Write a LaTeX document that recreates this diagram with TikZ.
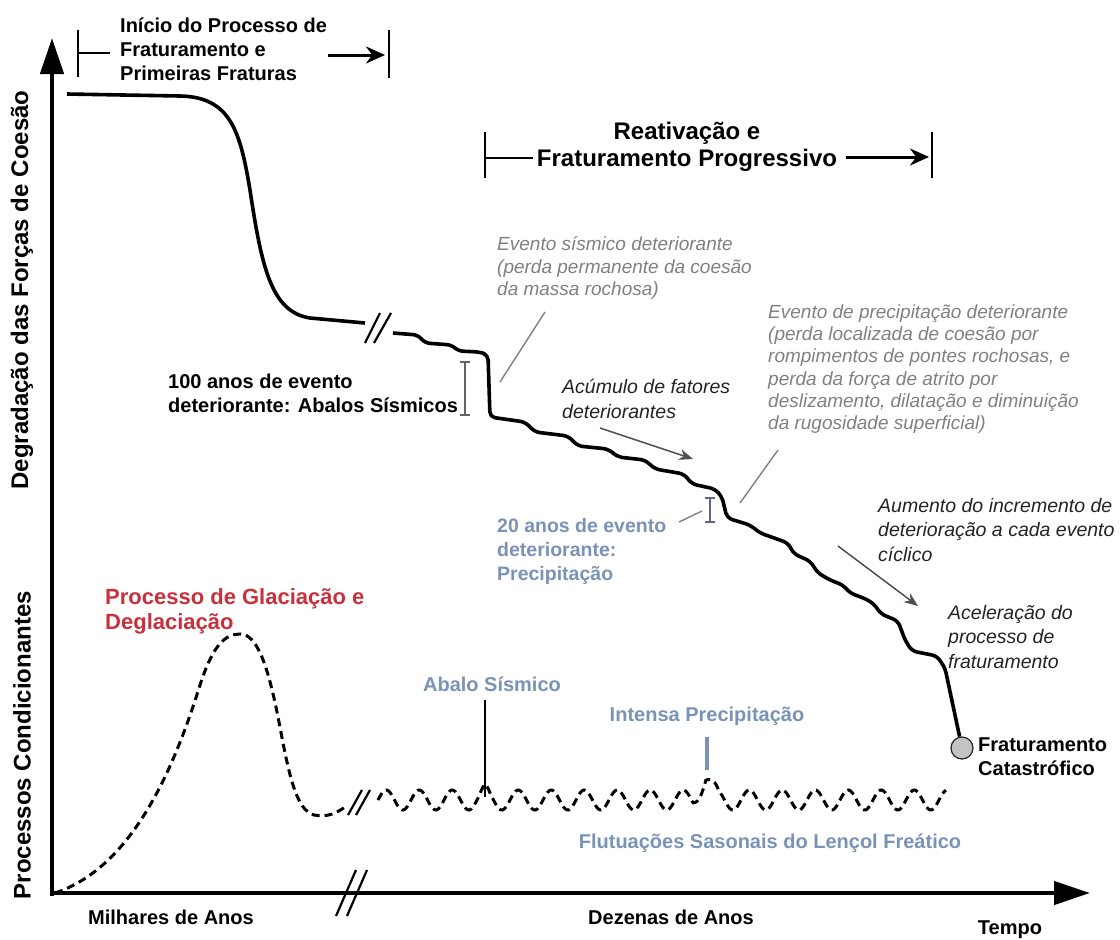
\documentclass[tikz,border=0pt]{standalone}
\usepackage{fontspec}
\setmainfont{Liberation Sans}
\usetikzlibrary{arrows.meta}
\definecolor{txtgray}{RGB}{128,128,128}
\definecolor{bluegray}{RGB}{122,146,182}
\definecolor{redtxt}{RGB}{200,48,60}
\definecolor{darktxt}{RGB}{35,35,35}
\definecolor{circgray}{RGB}{195,195,195}
\definecolor{bargray}{RGB}{100,100,100}
\definecolor{barblue}{RGB}{95,100,140}
\tikzset{
 boldtxt/.style={font=\bfseries\fontsize{20}{24}\selectfont, inner sep=0pt, align=left},
 grayit/.style={font=\itshape\fontsize{19}{22.3}\selectfont, text=txtgray, inner sep=0pt, align=left},
 darkit/.style={font=\itshape\fontsize{19.5}{24.5}\selectfont, text=darktxt, inner sep=0pt, align=left},
 bluebold/.style={font=\bfseries\fontsize{20}{24}\selectfont, text=bluegray, inner sep=0pt, align=left},
 axisline/.style={line width=4.5pt, -{Triangle[length=36pt,width=23pt]}},
 brk/.style={line width=2.2pt},
 stair/.style={line width=3.6pt, rounded corners=5pt, line join=round},
 wave/.style={line width=3pt, dash pattern=on 8pt off 5pt},
 barline/.style={line width=2.8pt},
 headarrow/.style={line width=3pt, -{Stealth[length=19pt,width=17pt]}},
 pointer/.style={line width=1.4pt, draw=txtgray},
 darkpointer/.style={line width=1.5pt, draw=darktxt!80, -{Stealth[length=14pt,width=11pt]}},
 ibar/.style={line width=1.6pt},
}
\begin{document}
\begin{tikzpicture}[x=1pt,y=-1pt]
\useasboundingbox (0,0) rectangle (1120,940);

% axes
\coordinate (O) at (52,896);
\coordinate (ytop) at (52,38);
\coordinate (xo) at (50,893);
\coordinate (xend) at (1090,893);
\draw[axisline] (O) -- (ytop);
\draw[axisline] (xo) -- (xend);
% x-axis break
\coordinate (xb1a) at (336,916); \coordinate (xb1b) at (356,870);
\coordinate (xb2a) at (347,916); \coordinate (xb2b) at (367,870);
\draw[brk] (xb1a) -- (xb1b);
\draw[brk] (xb2a) -- (xb2b);

% axis labels
\node[font=\bfseries\fontsize{24}{27}\selectfont, rotate=90, inner sep=0] (ylab1) at (22,290) {Degradação das Forças de Coesão};
\node[font=\bfseries\fontsize{24}{27}\selectfont, rotate=90, inner sep=0] (ylab2) at (22,745) {Processos Condicionantes};
\node[boldtxt] (mil) at (171,917) {Milhares de Anos};
\node[boldtxt] (dez) at (671,917) {Dezenas de Anos};
\node[boldtxt] (tempo) at (1010,930) {Tempo};

% top bracket 1
\node[boldtxt, anchor=west] (t1) at (120,49) {Início do Processo de\\Fraturamento e\\Primeiras Fraturas};
\coordinate (b1a) at (78,30); \coordinate (b1b) at (78,77);
\draw[barline] (b1a) -- (b1b);
\coordinate (b1l) at (78,53); \coordinate (b1le) at (110,53);
\draw[barline] (b1l) -- (b1le);
\coordinate (b1rs) at (328,55); \coordinate (b1re) at (385,55);
\draw[headarrow] (b1rs) -- (b1re);
\coordinate (b1c) at (389,30); \coordinate (b1d) at (389,78);
\draw[barline] (b1c) -- (b1d);

% top bracket 2
\node[font=\bfseries\fontsize{24}{27}\selectfont, align=center, inner sep=0] (t2) at (687,147) {Reativação e\\Fraturamento Progressivo};
\coordinate (b2a) at (485,132); \coordinate (b2b) at (485,178);
\draw[barline] (b2a) -- (b2b);
\coordinate (b2l) at (485,158); \coordinate (b2le) at (533,158);
\draw[barline] (b2l) -- (b2le);
\coordinate (b2rs) at (846,157); \coordinate (b2re) at (929,157);
\draw[headarrow] (b2rs) -- (b2re);
\coordinate (b2c) at (932,132); \coordinate (b2d) at (932,178);
\draw[barline] (b2c) -- (b2d);

% main degradation curve
\coordinate (m0) at (67,94);
\coordinate (m1) at (365,323);
\draw[line width=3.6pt] (m0) -- (180,96) .. controls (230,97) and (240,130) .. (250,190)
  .. controls (262,270) and (272,312) .. (310,318) -- (m1);
% break marks on curve
\coordinate (cb1a) at (365,343); \coordinate (cb1b) at (380,313);
\coordinate (cb2a) at (374,343); \coordinate (cb2b) at (391,313);
\draw[brk] (cb1a) -- (cb1b);
\draw[brk] (cb2a) -- (cb2b);

% catastrophic point
\node[circle, draw=darktxt, fill=circgray, minimum size=22pt, inner sep=0pt, line width=1.2pt] (cat) at (962,748) {};
\coordinate (s0) at (393,333);
\draw[stair] (s0) -- (418,335) -- (425,343) -- (452,345) -- (458,351) -- (480,352) -- (488,355)
  -- (490,417) -- (525,422) -- (535,432) -- (568,436) -- (578,446) -- (608,449) -- (618,457)
  -- (645,460) -- (655,469) -- (684,474) -- (692,484) -- (715,489) -- (722,497) -- (727,518)
  -- (750,525) -- (760,533) -- (777,539) -- (788,543) -- (794,554) -- (810,561) -- (818,573)
  -- (830,580) -- (843,585) -- (850,593) -- (866,599) -- (874,604) -- (881,614) -- (898,621)
  -- (905,640) -- (912,651) -- (937,656) -- (945,668) -- (cat);

% 100 anos annotation
\node[boldtxt, anchor=west] (cem) at (168,393) {100 anos de evento\\deteriorante: Abalos Sísmicos};
\coordinate (i1t) at (465,362); \coordinate (i1b) at (465,415);
\draw[ibar, draw=bargray] (i1t) -- (i1b);
\draw[ibar, draw=bargray] (460,362) -- (470,362);
\draw[ibar, draw=bargray] (460,415) -- (470,415);

% seismic gray annotation
\node[grayit, anchor=west] (sism) at (497,268) {Evento sísmico deteriorante\\(perda permanente da coesão\\da massa rochosa)};
\coordinate (p1a) at (545,312); \coordinate (p1b) at (500,382);
\draw[pointer] (p1a) -- (p1b);

% precipitation gray annotation
\node[grayit, anchor=west] (prec) at (768,369) {Evento de precipitação deteriorante\\(perda localizada de coesão por\\rompimentos de pontes rochosas, e\\perda da força de atrito por\\deslizamento, dilatação e diminuição\\da rugosidade superficial)};
\coordinate (p2a) at (778,450); \coordinate (p2b) at (740,503);
\draw[pointer] (p2a) -- (p2b);

% acumulo
\node[darkit, anchor=west] (acum) at (562,399) {Acúmulo de fatores\\deteriorantes};
\coordinate (a1s) at (600,428); \coordinate (a1e) at (693,459);
\draw[darkpointer] (a1s) -- (a1e);

% 20 anos
\node[font=\bfseries\fontsize{19.5}{24}\selectfont, text=bluegray, inner sep=0pt, align=left, anchor=west] (vinte) at (497,551) {20 anos de evento\\deteriorante:\\Precipitação};
\coordinate (i2t) at (710,498); \coordinate (i2b) at (710,522);
\draw[ibar, draw=barblue] (i2t) -- (i2b);
\draw[ibar, draw=barblue] (705,498) -- (715,498);
\draw[ibar, draw=barblue] (705,522) -- (715,522);
\coordinate (p3a) at (679,522); \coordinate (p3b) at (702,511);
\draw[pointer] (p3a) -- (p3b);

% aumento
\node[darkit, anchor=west] (aum) at (878,530) {Aumento do incremento de\\deterioração a cada evento\\cíclico};
\coordinate (a2s) at (838,546); \coordinate (a2e) at (918,606);
\draw[darkpointer] (a2s) -- (a2e);

% aceleracao
\node[darkit, anchor=west] (acel) at (948,637) {Aceleração do\\processo de\\fraturamento};

% fraturamento catastrofico
\node[boldtxt, anchor=west] (fcat) at (978,757) {Fraturamento\\Catastrófico};

% glaciation
\node[font=\bfseries\fontsize{22}{25}\selectfont, text=redtxt, inner sep=0pt, align=left, anchor=west] (glac) at (105,611) {Processo de Glaciação e\\Deglaciação};
\coordinate (g0) at (55,893);
\coordinate (g1) at (345,807);
\draw[wave] (g0) .. controls (130,868) and (172,775) .. (200,685)
  .. controls (213,645) and (225,634) .. (240,634)
  .. controls (257,634) and (268,665) .. (279,722)
  .. controls (289,775) and (296,810) .. (314,815)
  .. controls (328,818) and (338,812) .. (g1);
% wave break
\coordinate (wb1a) at (348,815); \coordinate (wb1b) at (362,790);
\coordinate (wb2a) at (356,815); \coordinate (wb2b) at (370,790);
\draw[brk] (wb1a) -- (wb1b);
\draw[brk] (wb2a) -- (wb2b);

% seasonal fluctuation wave
\draw[wave] plot[domain=378:946, samples=500]
  (\x, {800 - 10*sin((\x-378)*10.909) - 24*max(0,1-abs(\x-706)/13) - 6*max(0,1-abs(\x-485)/6)});

% seismic spike
\node[bluebold] (abalo) at (492,684) {Abalo Sísmico};
\coordinate (sp1) at (485,700); \coordinate (sp2) at (485,797);
\draw[line width=2.8pt] (sp1) -- (sp2);

% intense precipitation
\node[bluebold] (intp) at (707,716) {Intensa Precipitação};
\coordinate (ip1) at (707,737); \coordinate (ip2) at (707,770);
\draw[line width=3.8pt, draw=bluegray] (ip1) -- (ip2);

\node[bluebold] (flut) at (770,843) {Flutuações Sasonais do Lençol Freático};
\end{tikzpicture}
\end{document}
